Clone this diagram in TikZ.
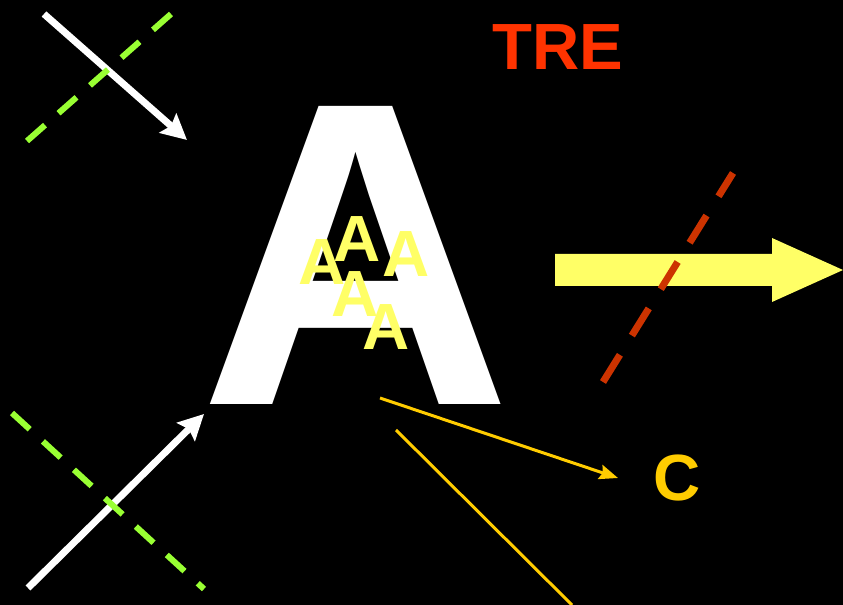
\documentclass[tikz,border=0pt]{standalone}
\usepackage{fontspec}
\setmainfont{Liberation Sans}
\usetikzlibrary{arrows.meta}
\definecolor{lemon}{HTML}{FFFF66}
\definecolor{amber}{HTML}{FFCC00}
\definecolor{lime}{HTML}{99FF33}
\definecolor{rust}{HTML}{CC3300}
\definecolor{flame}{HTML}{FF3300}

\begin{document}
\begin{tikzpicture}[x=0.75pt, y=-0.75pt, >=Stealth,
    bigletter/.style={font=\fontsize{325}{325}\selectfont\bfseries, text=white, inner sep=0pt, anchor=base},
    smallletter/.style={font=\fontsize{49}{49}\selectfont\bfseries, text=lemon, inner sep=0pt, anchor=base},
    tag/.style={font=\fontsize{49}{49}\selectfont\bfseries, inner sep=0pt, anchor=base},
    whitearrow/.style={draw=white, line width=5.25pt, -{Stealth[length=19pt, width=19pt, inset=3pt]}},
    greendash/.style={draw=lime, line width=4.5pt, dash pattern=on 18pt off 13.5pt},
    reddash/.style={draw=rust, line width=5.25pt, dash pattern=on 24pt off 17pt},
    yellowline/.style={draw=amber, line width=2.25pt}
]

    % Background
    \fill[black] (0,0) rectangle (843,605);
    \useasboundingbox (0,0) rectangle (843,605);

    % Big letter
    \node[bigletter] (bigA) at (356,405) {A};

    % Small letters
    \node[smallletter] (a1) at (322,285) {A};
    \node[smallletter] (a2) at (357,262) {A};
    \node[smallletter] (a3) at (406,277) {A};
    \node[smallletter] (a4) at (355,317) {A};
    \node[smallletter] (a5) at (386,350) {A};

    % Labels
    \node[tag, text=flame] (tre) at (558,70) {TRE};
    \node[tag, text=amber] (c) at (677,501) {C};

    % Top left crossing
    \coordinate (tlS) at (44,14);
    \coordinate (tlE) at (187,140);
    \coordinate (tdS) at (171,14);
    \coordinate (tdE) at (27,141);
    \draw[whitearrow] (tlS) -- (tlE);
    \draw[greendash] (tdS) -- (tdE);

    % Bottom left crossing
    \coordinate (blS) at (28,588);
    \coordinate (blE) at (204,414);
    \coordinate (bdS) at (12,413);
    \coordinate (bdE) at (204,589);
    \draw[whitearrow] (blS) -- (blE);
    \draw[greendash] (bdS) -- (bdE);

    % Block arrow
    \fill[lemon] (555,254) -- (772,254) -- (772,238) -- (843,270) -- (772,302)
        -- (772,286) -- (555,286) -- cycle;
    \coordinate (rdS) at (603,382);
    \coordinate (rdE) at (733,173);
    \draw[reddash] (rdS) -- (rdE);

    % Yellow lines
    \coordinate (y1S) at (380,398);
    \coordinate (y1E) at (618,478);
    \coordinate (y2S) at (396,430);
    \coordinate (y2E) at (572,605);
    \draw[yellowline, -{Stealth[length=14pt, width=11pt, inset=2pt]}] (y1S) -- (y1E);
    \draw[yellowline] (y2S) -- (y2E);

\end{tikzpicture}
\end{document}
